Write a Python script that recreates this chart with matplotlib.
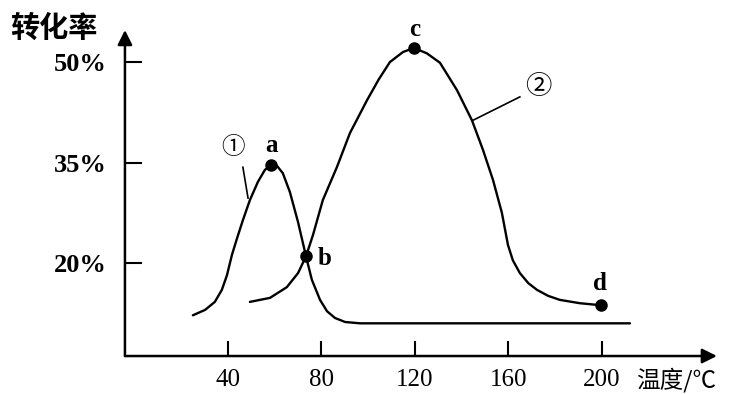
import matplotlib
matplotlib.use('Agg')
import matplotlib.pyplot as plt

# curve 1
c1_x = [25.0, 30.2, 34.4, 37.4, 39.6, 41.7, 43.9, 46.4, 49.4, 52.8, 55.8, 58.4,
        61.0, 63.5, 66.5, 70.0, 73.4, 75.9, 79.4, 82.4, 85.8, 90.1, 96.5,
        130, 170, 212]
c1_y = [12.2, 13.0, 14.2, 16.0, 18.2, 21.2, 23.7, 26.4, 29.4, 32.1, 33.9, 34.6,
        34.5, 33.4, 30.6, 26.1, 21.0, 17.5, 14.5, 12.8, 11.8, 11.2, 11.0,
        11.0, 11.0, 11.0]

# curve 2
c2_x = [49.4, 58.0, 65.2, 70.0, 73.4, 76.4, 80.6, 86.6, 92.2, 99.5, 104.5,
        109.3, 114.9, 119.6, 125.1, 130.7, 138.0, 144.4, 149.1, 153.4, 157.2,
        159.8, 161.9, 164.9, 168.5, 172.2, 177.0, 182.0, 190.6, 199.6]
c2_y = [14.2, 14.8, 16.4, 18.5, 21.0, 24.2, 29.4, 34.3, 39.4, 44.3, 47.4,
        50.0, 51.5, 52.1, 51.3, 49.9, 45.8, 41.3, 36.9, 32.4, 27.5,
        22.7, 20.4, 18.5, 17.0, 16.0, 15.1, 14.5, 14.0, 13.7]

pt_names = ['a', 'b', 'c', 'd']
pt_x = [58.4, 73.4, 119.6, 199.6]
pt_y = [34.6, 21.0, 52.1, 13.7]
lab_x = [58.8, 81.5, 120.0, 199.1]
lab_y = [37.6, 20.7, 54.8, 17.0]

xticks = [40, 80, 120, 160, 200]
yticks = [20, 35, 50]
ytick_labels = ['20%', '35%', '50%']

serif = 'Liberation Serif'
cjk = ['Noto Sans CJK SC', 'DejaVu Sans']

fig = plt.figure(figsize=(7.35, 3.94), dpi=100)
ax = fig.add_axes([0.170, 0.0964, 0.8054, 0.8274])
ax.set_xlim(-4.06, 249.2)
ax.set_ylim(6.12, 54.78)

ax.plot(c1_x, c1_y, color='black', lw=1.7, solid_capstyle='round',
        solid_joinstyle='round')
ax.plot(c2_x, c2_y, color='black', lw=1.7, solid_capstyle='round',
        solid_joinstyle='round')
ax.plot(pt_x, pt_y, 'o', color='black', ms=8, clip_on=False)

for n, x, y in zip(pt_names, lab_x, lab_y):
    ax.text(x, y, n, ha='center', va='center', fontsize=18, family=serif,
            fontweight='bold', clip_on=False)

# curve labels with pointer lines
ax.text(42.1, 37.2, '①', ha='center', va='center', fontsize=17, family=cjk)
ax.plot([46.4, 48.6], [34.3, 29.7], color='black', lw=1.2)
ax.text(172.6, 46.4, '②', ha='center', va='center', fontsize=19, family=cjk)
ax.plot([144.8, 164.9], [41.3, 44.8], color='black', lw=1.2)

# axes as arrows
for s in ax.spines.values():
    s.set_visible(False)
ax.annotate('', xy=(1, 0), xytext=(0, 0), xycoords='axes fraction',
            arrowprops=dict(arrowstyle='-|>', color='black', lw=1.8,
                            mutation_scale=22, shrinkA=0, shrinkB=0))
ax.annotate('', xy=(0, 1), xytext=(0, 0), xycoords='axes fraction',
            arrowprops=dict(arrowstyle='-|>', color='black', lw=1.8,
                            mutation_scale=22, shrinkA=0, shrinkB=0))

ax.set_xticks(xticks)
ax.set_xticklabels([str(t) for t in xticks], family=serif, fontsize=18)
ax.set_yticks(yticks)
ax.set_yticklabels(ytick_labels, family=serif, fontsize=19, fontweight='bold')
ax.tick_params(axis='x', direction='in', length=11, width=1.5, pad=9)
ax.tick_params(axis='y', direction='in', length=12, width=1.5, pad=13)

fig.text(0.014, 0.93, '转化率', family=cjk, fontsize=21, fontweight='bold',
         ha='left', va='center')
fig.text(0.866, 0.004, '温度/℃', family=cjk, fontsize=17, ha='left', va='bottom')

fig.savefig('out.png', dpi=100)
